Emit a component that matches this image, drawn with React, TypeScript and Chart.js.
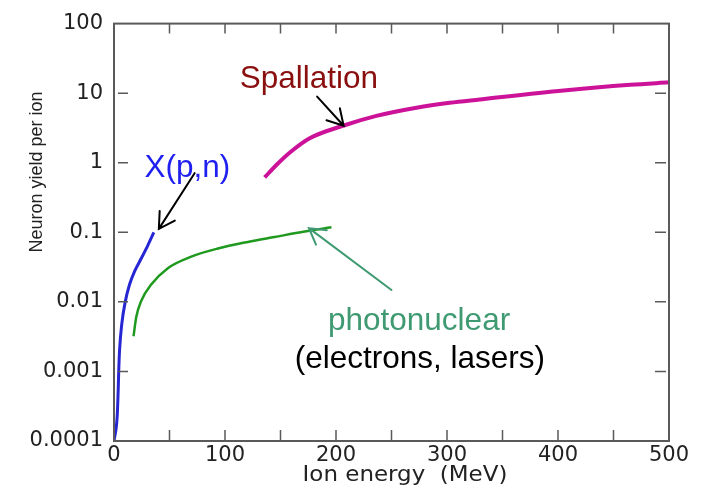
import { useEffect, useRef } from 'react';
import { Chart, registerables } from 'chart.js';

Chart.register(...registerables);

// ---- data ----
const xpnEnergy = [0, 2.9, 3.8, 4.2, 5.0, 7.0, 10.1, 14.0, 18.5, 24.5, 30.5, 35.9];
const xpnYield = [0.0001, 0.00023, 0.00055, 0.00095, 0.002, 0.0048, 0.01, 0.0178, 0.0274, 0.042, 0.065, 0.1];

const photoEnergy = [17.6, 20.0, 24.5, 33.5, 48.5, 69.6, 93.6, 120.6, 144.7, 171.8, 195.9];
const photoYield = [0.0032, 0.006, 0.0103, 0.0177, 0.0305, 0.0447, 0.0585, 0.0727, 0.0856, 0.1026, 0.118];

const spallEnergy = [135.7, 146.3, 159.8, 176.3, 206.3, 236.4, 272.5, 302.5, 329.6, 405.1, 465.2, 500];
const spallYield = [0.614, 0.927, 1.46, 2.25, 3.4, 4.71, 6.17, 7.26, 8.11, 10.96, 13.2, 14.3];

const xTickValues = [0, 100, 200, 300, 400, 500];
const xMinorTicks = [50, 100, 150, 200, 250, 300, 350, 400, 450];
const yTickValues = [0.0001, 0.001, 0.01, 0.1, 1, 10, 100];
const yTickLabels = ['0.0001', '0.001', '0.01', '0.1', '1', '10', '100'];
const yInnerTicks = [0.001, 0.01, 0.1, 1, 10];

const xTitle = 'Ion energy  (MeV)';
const yTitle = 'Neuron yield per ion';

// annotation texts (anchored in data units: left edge / baseline)
const labelTexts = ['X(p,n)', 'Spallation', 'photonuclear', '(electrons, lasers)'];
const labelX = [27.5, 113.2, 192.8, 162.8];
const labelY = [0.634, 11.8, 0.0039, 0.00111];
const labelColors = ['#1f1ff0', '#8a0f0f', '#3f9a72', '#000000'];

// arrows (tail -> tip) in data units
const arrowTailX = [72.6, 183.0, 250.0];
const arrowTailY = [0.708, 8.94, 0.0148];
const arrowTipX = [40.4, 206.9, 175.6];
const arrowTipY = [0.112, 3.4, 0.115];
const arrowColors = ['#000000', '#000000', '#3f9a72'];

const TICK_FONT = "'DejaVu Sans', sans-serif";
const TEXT_FONT = "'Liberation Sans', Arial, sans-serif";

const toPoints = (xs: number[], ys: number[]) => xs.map((x, i) => ({ x, y: ys[i] }));

const decorPlugin = {
  id: 'decor',
  afterDraw(chart: any) {
    const { ctx, chartArea: a, scales } = chart;
    const xs = scales.x;
    const ys = scales.y;
    ctx.save();

    // frame
    ctx.strokeStyle = '#5a5a5a';
    ctx.lineWidth = 2;
    ctx.strokeRect(a.left, a.top, a.right - a.left, a.bottom - a.top);

    // inward tick marks
    ctx.lineWidth = 1.5;
    ctx.beginPath();
    for (const v of xMinorTicks) {
      const px = xs.getPixelForValue(v);
      ctx.moveTo(px, a.bottom);
      ctx.lineTo(px, a.bottom - 11);
      ctx.moveTo(px, a.top);
      ctx.lineTo(px, a.top + 10);
    }
    for (const v of yInnerTicks) {
      const py = ys.getPixelForValue(v);
      ctx.moveTo(a.left + 4, py);
      ctx.lineTo(a.left + 14, py);
      ctx.moveTo(a.right - 14, py);
      ctx.lineTo(a.right - 3, py);
    }
    ctx.stroke();

    // axis titles
    ctx.fillStyle = '#222222';
    ctx.textAlign = 'center';
    ctx.textBaseline = 'middle';
    ctx.save();
    ctx.translate(405, 476);
    ctx.scale(1.12, 1);
    ctx.font = `20.5px ${TICK_FONT}`;
    ctx.fillText(xTitle, 0, 0);
    ctx.restore();

    ctx.save();
    ctx.translate(37, 172);
    ctx.rotate(-Math.PI / 2);
    ctx.font = `18px ${TEXT_FONT}`;
    ctx.fillText(yTitle, 0, 0);
    ctx.restore();

    // arrows
    for (let i = 0; i < arrowTailX.length; i++) {
      const tx = xs.getPixelForValue(arrowTailX[i]);
      const ty = ys.getPixelForValue(arrowTailY[i]);
      const hx = xs.getPixelForValue(arrowTipX[i]);
      const hy = ys.getPixelForValue(arrowTipY[i]);
      const ang = Math.atan2(ty - hy, tx - hx);
      const len = 18;
      const spread = Math.PI / 6;
      ctx.strokeStyle = arrowColors[i];
      ctx.lineWidth = 2;
      ctx.lineCap = 'round';
      ctx.beginPath();
      ctx.moveTo(tx, ty);
      ctx.lineTo(hx, hy);
      ctx.moveTo(hx + len * Math.cos(ang + spread), hy + len * Math.sin(ang + spread));
      ctx.lineTo(hx, hy);
      ctx.lineTo(hx + len * Math.cos(ang - spread), hy + len * Math.sin(ang - spread));
      ctx.stroke();
    }

    // annotation texts
    ctx.textAlign = 'left';
    ctx.textBaseline = 'alphabetic';
    ctx.font = `31.5px ${TEXT_FONT}`;
    for (let i = 0; i < labelTexts.length; i++) {
      ctx.fillStyle = labelColors[i];
      ctx.fillText(labelTexts[i], xs.getPixelForValue(labelX[i]), ys.getPixelForValue(labelY[i]));
    }

    ctx.restore();
  },
};

export default function App() {
  const ref = useRef<HTMLCanvasElement | null>(null);

  useEffect(() => {
    document.body.style.margin = '0';
    const canvas = ref.current;
    if (!canvas) return;
    const chart = new Chart(canvas, {
      type: 'line',
      data: {
        datasets: [
          {
            label: 'X(p,n)',
            data: toPoints(xpnEnergy, xpnYield),
            borderColor: '#2626d4',
            borderWidth: 3,
            pointRadius: 0,
            cubicInterpolationMode: 'monotone',
          },
          {
            label: 'photonuclear',
            data: toPoints(photoEnergy, photoYield),
            borderColor: '#1f9a1f',
            borderWidth: 2.5,
            pointRadius: 0,
            cubicInterpolationMode: 'monotone',
          },
          {
            label: 'Spallation',
            data: toPoints(spallEnergy, spallYield),
            borderColor: '#cc1299',
            borderWidth: 4,
            pointRadius: 0,
            cubicInterpolationMode: 'monotone',
          },
        ],
      },
      options: {
        responsive: false,
        animation: false,
        layout: { padding: { top: 16, right: 49, left: 0, bottom: 0 } },
        plugins: {
          legend: { display: false },
          tooltip: { enabled: false },
        },
        scales: {
          x: {
            type: 'linear',
            min: 0,
            max: 500,
            grid: { display: false, drawTicks: false },
            border: { display: false },
            ticks: {
              font: { family: TICK_FONT, size: 21 },
              color: '#222222',
              padding: 2,
              maxRotation: 0,
              autoSkip: false,
            },
            afterBuildTicks: (scale: any) => {
              scale.ticks = xTickValues.map((v) => ({ value: v }));
            },
            afterFit: (scale: any) => {
              scale.height = 48;
            },
          },
          y: {
            type: 'logarithmic',
            min: 0.0001,
            max: 100,
            grid: { display: false, drawTicks: false },
            border: { display: false },
            ticks: {
              font: { family: TICK_FONT, size: 21 },
              color: '#222222',
              padding: 11,
              autoSkip: false,
              callback: (value: any) => {
                const idx = yTickValues.findIndex((t) => Math.abs(Math.log10(t) - Math.log10(Number(value))) < 1e-6);
                return idx >= 0 ? yTickLabels[idx] : '';
              },
            },
            afterBuildTicks: (scale: any) => {
              scale.ticks = yTickValues.map((v) => ({ value: v }));
            },
            afterFit: (scale: any) => {
              scale.width = 114;
            },
          },
        },
      },
      plugins: [decorPlugin],
    });
    return () => chart.destroy();
  }, []);

  return <canvas ref={ref} width={718} height={489} style={{ display: 'block' }} />;
}
